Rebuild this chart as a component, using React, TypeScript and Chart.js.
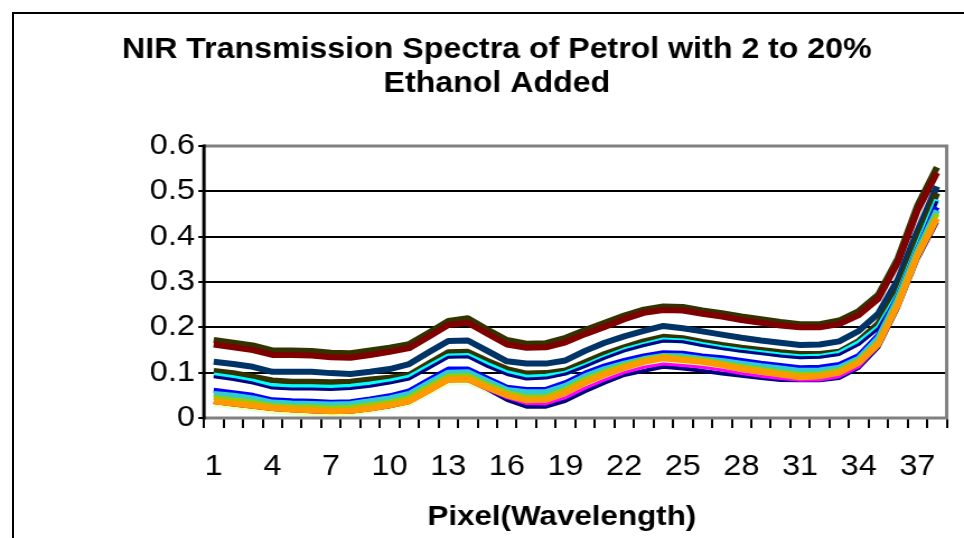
import React, { useEffect, useRef } from 'react';
import { Chart, registerables } from 'chart.js';

Chart.register(...registerables);

// ---------- text ----------
const TITLE_LINES = ['NIR Transmission Spectra of Petrol with 2 to 20%', 'Ethanol Added'];
const X_TITLE = 'Pixel(Wavelength)';

// ---------- categories ----------
const PIXELS = [
  '1', '2', '3', '4', '5', '6', '7', '8', '9', '10',
  '11', '12', '13', '14', '15', '16', '17', '18', '19', '20',
  '21', '22', '23', '24', '25', '26', '27', '28', '29', '30',
  '31', '32', '33', '34', '35', '36', '37', '38',
];

// ---------- series values ----------
const SERIES_OLIVE_TOP = [0.172, 0.166, 0.160, 0.149, 0.149, 0.148, 0.144, 0.143, 0.149, 0.155, 0.163, 0.188, 0.214, 0.220, 0.195, 0.172, 0.164, 0.165, 0.177, 0.194, 0.210, 0.226, 0.239, 0.246, 0.245, 0.237, 0.231, 0.224, 0.218, 0.212, 0.207, 0.207, 0.215, 0.236, 0.272, 0.352, 0.468, 0.553];
const SERIES_DARK_RED = [0.162, 0.156, 0.150, 0.139, 0.139, 0.138, 0.134, 0.133, 0.139, 0.146, 0.154, 0.179, 0.205, 0.210, 0.186, 0.162, 0.155, 0.156, 0.167, 0.185, 0.201, 0.218, 0.232, 0.238, 0.237, 0.230, 0.224, 0.216, 0.210, 0.204, 0.200, 0.200, 0.207, 0.227, 0.263, 0.343, 0.457, 0.541];
const SERIES_DARK_BLUE = [0.124, 0.119, 0.113, 0.102, 0.102, 0.102, 0.099, 0.097, 0.102, 0.108, 0.119, 0.145, 0.170, 0.171, 0.148, 0.125, 0.120, 0.120, 0.127, 0.148, 0.166, 0.180, 0.192, 0.203, 0.198, 0.191, 0.184, 0.177, 0.171, 0.166, 0.161, 0.162, 0.169, 0.192, 0.230, 0.305, 0.412, 0.511];
const SERIES_OLIVE_LOW = [0.104, 0.099, 0.091, 0.083, 0.080, 0.080, 0.079, 0.080, 0.085, 0.089, 0.095, 0.120, 0.145, 0.146, 0.126, 0.108, 0.098, 0.099, 0.105, 0.123, 0.141, 0.156, 0.169, 0.179, 0.176, 0.168, 0.161, 0.155, 0.150, 0.145, 0.141, 0.141, 0.146, 0.170, 0.208, 0.282, 0.392, 0.496];
const SERIES_CYAN = [0.095, 0.089, 0.081, 0.071, 0.069, 0.069, 0.068, 0.070, 0.075, 0.081, 0.090, 0.114, 0.137, 0.138, 0.118, 0.100, 0.090, 0.092, 0.099, 0.116, 0.134, 0.150, 0.162, 0.172, 0.170, 0.162, 0.155, 0.149, 0.144, 0.139, 0.135, 0.136, 0.143, 0.166, 0.200, 0.272, 0.378, 0.482];
const SERIES_NAVY = [0.091, 0.085, 0.077, 0.066, 0.064, 0.064, 0.063, 0.065, 0.070, 0.077, 0.086, 0.110, 0.134, 0.135, 0.114, 0.096, 0.086, 0.088, 0.097, 0.114, 0.132, 0.148, 0.160, 0.170, 0.168, 0.160, 0.153, 0.147, 0.142, 0.137, 0.133, 0.134, 0.140, 0.162, 0.197, 0.270, 0.375, 0.478];
const SERIES_BLUE = [0.061, 0.056, 0.050, 0.040, 0.038, 0.037, 0.035, 0.036, 0.042, 0.049, 0.060, 0.084, 0.108, 0.108, 0.088, 0.068, 0.063, 0.063, 0.078, 0.099, 0.115, 0.127, 0.137, 0.144, 0.143, 0.137, 0.133, 0.127, 0.121, 0.116, 0.111, 0.112, 0.118, 0.138, 0.183, 0.268, 0.372, 0.465];
const SERIES_TURQUOISE = [0.053, 0.049, 0.043, 0.034, 0.032, 0.031, 0.030, 0.031, 0.037, 0.043, 0.053, 0.077, 0.100, 0.101, 0.081, 0.062, 0.057, 0.057, 0.071, 0.092, 0.108, 0.120, 0.130, 0.137, 0.136, 0.130, 0.126, 0.120, 0.114, 0.109, 0.104, 0.105, 0.111, 0.131, 0.176, 0.262, 0.367, 0.458];
const SERIES_LIGHT_CYAN = [0.028, 0.023, 0.018, 0.012, 0.009, 0.007, 0.006, 0.007, 0.013, 0.020, 0.029, 0.052, 0.075, 0.076, 0.058, 0.041, 0.031, 0.032, 0.048, 0.070, 0.088, 0.103, 0.116, 0.124, 0.120, 0.116, 0.109, 0.100, 0.094, 0.088, 0.083, 0.085, 0.093, 0.115, 0.156, 0.243, 0.350, 0.432];
const SERIES_LIGHT_YELLOW = [0.030, 0.025, 0.020, 0.014, 0.011, 0.009, 0.008, 0.009, 0.015, 0.022, 0.031, 0.054, 0.077, 0.078, 0.060, 0.043, 0.033, 0.034, 0.050, 0.072, 0.090, 0.105, 0.118, 0.126, 0.122, 0.118, 0.111, 0.102, 0.096, 0.090, 0.085, 0.087, 0.095, 0.117, 0.158, 0.245, 0.352, 0.434];
const SERIES_NAVY_LOW = [0.035, 0.030, 0.025, 0.020, 0.017, 0.015, 0.013, 0.014, 0.019, 0.026, 0.035, 0.059, 0.083, 0.084, 0.064, 0.040, 0.025, 0.025, 0.038, 0.059, 0.078, 0.095, 0.104, 0.113, 0.109, 0.104, 0.098, 0.093, 0.088, 0.084, 0.083, 0.083, 0.088, 0.111, 0.156, 0.243, 0.350, 0.432];
const SERIES_MAGENTA = [0.034, 0.029, 0.024, 0.019, 0.016, 0.014, 0.012, 0.013, 0.018, 0.025, 0.034, 0.058, 0.082, 0.083, 0.063, 0.045, 0.032, 0.031, 0.045, 0.066, 0.084, 0.100, 0.112, 0.119, 0.116, 0.112, 0.106, 0.098, 0.092, 0.087, 0.083, 0.084, 0.091, 0.113, 0.158, 0.245, 0.352, 0.434];
const SERIES_YELLOW_GREEN = [0.045, 0.040, 0.035, 0.027, 0.025, 0.024, 0.022, 0.023, 0.029, 0.035, 0.045, 0.069, 0.092, 0.093, 0.074, 0.056, 0.046, 0.047, 0.063, 0.085, 0.102, 0.116, 0.128, 0.136, 0.132, 0.128, 0.121, 0.113, 0.107, 0.101, 0.096, 0.097, 0.105, 0.127, 0.168, 0.256, 0.363, 0.450];
const SERIES_ORANGE = [0.037, 0.032, 0.027, 0.022, 0.019, 0.017, 0.015, 0.016, 0.021, 0.028, 0.037, 0.061, 0.085, 0.086, 0.067, 0.050, 0.039, 0.040, 0.056, 0.078, 0.096, 0.111, 0.124, 0.132, 0.128, 0.124, 0.117, 0.108, 0.102, 0.096, 0.090, 0.092, 0.100, 0.122, 0.163, 0.250, 0.358, 0.440];

// drawing order: later entries on top
const SERIES = [
  { data: SERIES_OLIVE_TOP, color: '#333300', width: 6 },
  { data: SERIES_DARK_RED, color: '#800000', width: 6 },
  { data: SERIES_DARK_BLUE, color: '#003366', width: 6 },
  { data: SERIES_OLIVE_LOW, color: '#333300', width: 6 },
  { data: SERIES_CYAN, color: '#00FFFF', width: 5 },
  { data: SERIES_NAVY, color: '#000080', width: 3 },
  { data: SERIES_BLUE, color: '#0000FF', width: 5 },
  { data: SERIES_TURQUOISE, color: '#33CCCC', width: 6 },
  { data: SERIES_LIGHT_CYAN, color: '#CCFFFF', width: 3 },
  { data: SERIES_LIGHT_YELLOW, color: '#FFFF99', width: 3 },
  { data: SERIES_NAVY_LOW, color: '#000080', width: 4 },
  { data: SERIES_MAGENTA, color: '#FF00FF', width: 3 },
  { data: SERIES_YELLOW_GREEN, color: '#99CC00', width: 5 },
  { data: SERIES_ORANGE, color: '#FF9900', width: 6 },
];

// ---------- layout ----------
const VIEW_W = 964;
const VIEW_H = 538;
const STRETCH = 1.12; // the reference is horizontally stretched
const CANVAS_W = Math.round(VIEW_W / STRETCH);
const AREA_LEFT = 204 / STRETCH;
const AREA_RIGHT = 947 / STRETCH;
const AREA_TOP = 146;
const AREA_BOTTOM = 418;
const TITLE_X = 497 / STRETCH;
const X_TITLE_X = 562 / STRETCH;
const FONT = '"Liberation Sans", Arial, Helvetica, sans-serif';

const textPlugin = {
  id: 'chartTexts',
  afterDraw(chart: any) {
    const ctx = chart.ctx;
    ctx.save();
    ctx.fillStyle = '#000';
    ctx.textAlign = 'center';
    ctx.textBaseline = 'middle';
    ctx.font = `bold 28.7px ${FONT}`;
    TITLE_LINES.forEach((t, i) => ctx.fillText(t, TITLE_X, 50 + i * 34));
    ctx.font = `bold 28px ${FONT}`;
    ctx.fillText(X_TITLE, X_TITLE_X, 517);
    ctx.restore();
  },
};

const framePlugin = {
  id: 'plotFrame',
  afterDatasetsDraw(chart: any) {
    const { ctx, chartArea: a } = chart;
    ctx.save();
    ctx.strokeStyle = '#808080';
    ctx.lineWidth = 3;
    ctx.beginPath();
    ctx.moveTo(a.left, a.top);
    ctx.lineTo(a.right, a.top);
    ctx.lineTo(a.right, a.bottom);
    ctx.lineTo(a.left, a.bottom);
    ctx.stroke();
    ctx.strokeStyle = '#000';
    ctx.beginPath();
    ctx.moveTo(a.left, a.top - 1.5);
    ctx.lineTo(a.left, a.bottom + 1.5);
    ctx.stroke();
    ctx.restore();
  },
};

export default function App() {
  const canvasRef = useRef<HTMLCanvasElement | null>(null);

  useEffect(() => {
    const canvas = canvasRef.current;
    if (!canvas) return;
    const chart = new Chart(canvas, {
      type: 'line',
      data: {
        labels: PIXELS,
        datasets: SERIES.map((s, i) => ({
          label: `S${i + 1}`,
          data: s.data,
          borderColor: s.color,
          backgroundColor: s.color,
          borderWidth: s.width,
          pointRadius: 0,
          pointHoverRadius: 0,
          tension: 0,
          fill: false,
          order: SERIES.length - i,
          borderJoinStyle: 'round',
        })),
      },
      options: {
        responsive: false,
        animation: false,
        devicePixelRatio: 1,
        layout: {
          padding: { left: 0, top: AREA_TOP, right: CANVAS_W - AREA_RIGHT, bottom: 0 },
        },
        plugins: {
          legend: { display: false },
          title: { display: false },
          tooltip: { enabled: false },
        },
        scales: {
          x: {
            type: 'category',
            offset: true,
            afterFit: (scale: any) => {
              scale.height = VIEW_H - AREA_BOTTOM;
            },
            grid: {
              offset: true,
              drawOnChartArea: false,
              drawTicks: true,
              tickLength: 10,
              color: '#000',
              lineWidth: 2,
            },
            border: { display: false },
            ticks: {
              autoSkip: false,
              maxRotation: 0,
              minRotation: 0,
              padding: 22,
              color: '#000',
              font: { family: FONT, size: 29 },
              callback: function (this: any, value: any, index: number) {
                return index % 3 === 0 ? this.getLabelForValue(value) : '';
              },
            },
            title: { display: false },
          },
          y: {
            min: 0,
            max: 0.6,
            afterFit: (scale: any) => {
              scale.width = AREA_LEFT;
            },
            grid: {
              color: '#000',
              lineWidth: 2,
              drawTicks: true,
              tickLength: 5,
            },
            border: { display: false },
            ticks: {
              stepSize: 0.1,
              padding: 3,
              color: '#000',
              font: { family: FONT, size: 29 },
              callback: (value: any) => String(Math.round(Number(value) * 10) / 10),
            },
          },
        },
      },
      plugins: [textPlugin, framePlugin],
    });
    return () => chart.destroy();
  }, []);

  return (
    <div
      style={{
        position: 'fixed',
        left: 0,
        top: 0,
        width: VIEW_W,
        height: VIEW_H,
        overflow: 'hidden',
        background: '#fff',
      }}
    >
      <canvas
        ref={canvasRef}
        width={CANVAS_W}
        height={VIEW_H}
        style={{ position: 'absolute', left: 0, top: 0, width: VIEW_W, height: VIEW_H, display: 'block' }}
      />
      <div
        style={{
          position: 'absolute',
          left: 12,
          top: 12,
          width: 1000,
          height: 600,
          border: '2px solid #000',
          pointerEvents: 'none',
        }}
      />
    </div>
  );
}
